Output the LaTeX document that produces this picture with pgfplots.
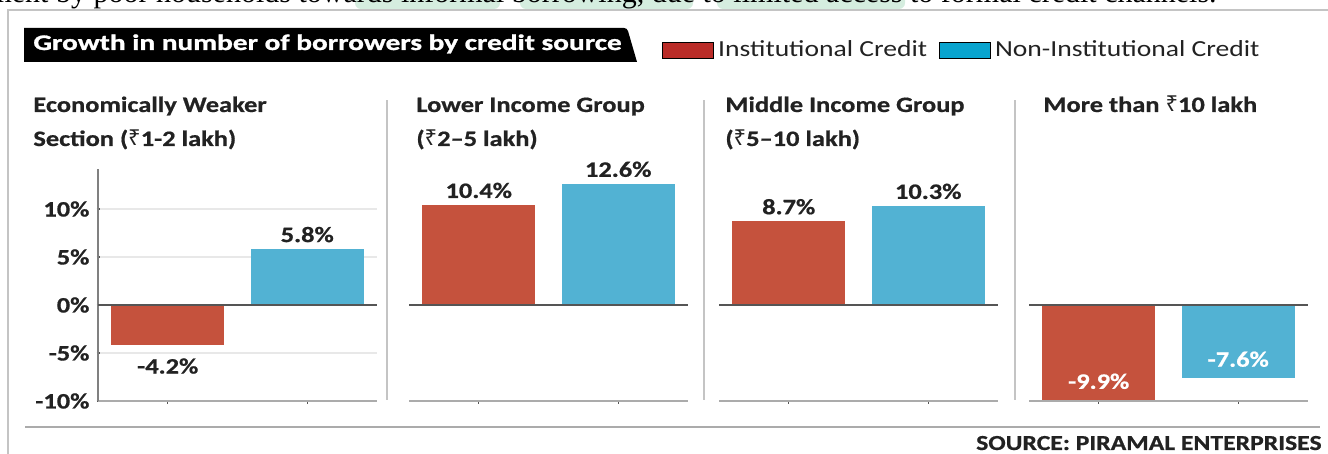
\documentclass[border=0pt]{standalone}
\usepackage{fontspec}
\setmainfont{Carlito}[FakeStretch=1.2, BoldFeatures={FakeBold=0.7}]
\newfontfamily\bannerfont{Carlito}[FakeStretch=1.32, BoldFeatures={FakeBold=1.3}]
\newfontfamily\rsfont{Noto Sans}
\newfontfamily\seriffont{Liberation Serif}
\usepackage{pgfplots}
\pgfplotsset{compat=1.18}
\definecolor{instred}{HTML}{C5523D}
\definecolor{noninstblue}{HTML}{52B2D3}
\definecolor{legred}{HTML}{BA2C28}
\definecolor{legblue}{HTML}{08A4CF}
\definecolor{gridgray}{HTML}{E8E8E8}
\definecolor{axisgray}{HTML}{ABABAB}
\definecolor{zerogray}{HTML}{555555}
\definecolor{framegray}{HTML}{C4C4C4}
\definecolor{mint}{HTML}{D5EDDF}
\definecolor{ink}{HTML}{222222}
\newcommand{\rs}{{\rsfont\bfseries ₹}}
\newcommand{\labfont}{\bfseries\fontsize{11}{13}\selectfont}

\tikzset{zero/.style={zerogray, line width=1.3pt}}
\pgfplotsset{
  panel/.style={
    scale only axis, width=139.5pt, height=116.15pt,
    anchor=south west,
    xmin=-0.5, xmax=1.5, ymin=-10, ymax=14.2,
    ybar, bar width=56.5pt,
    xtick={0,1}, xticklabels={},
    ytick={-10,-5,0,5,10},
    ymajorgrids, major grid style={gridgray, line width=0.6pt},
    axis x line=bottom,
    x axis line style={axisgray, line width=1.1pt, -},
    xtick style={zerogray, line width=0.6pt},
    tick align=outside, major tick length=1.5pt,
    nodes near coords={\pgfmathprintnumber[fixed,fixed zerofill,precision=1,assume math mode=true]{\pgfplotspointmeta}\%},
    every node near coord/.append style={font=\labfont, text=ink},
    clip=false,
  },
  noy/.style={axis y line=none, yticklabels={}, ytick style={draw=none}},
  inst/.style={fill=instred, draw=none, bar shift=0pt, forget plot},
  noninst/.style={fill=noninstblue, draw=none, bar shift=0pt, forget plot},
}

\begin{document}
\begin{tikzpicture}
\useasboundingbox (0,0) rectangle (664pt,227pt);

\begin{scope}[x=0.5pt, y=0.5pt]
  % article text cut off at the top
  \fill[mint, rounded corners=3pt] (355,445) rectangle (500,470);
  \fill[mint, rounded corners=3pt] (520,445) rectangle (693,470);
  \fill[mint, rounded corners=3pt] (717,445) rectangle (905,470);
  \node[anchor=base east, inner sep=0pt, font=\seriffont\fontsize{15}{17}\selectfont]
    at (1217,451) {ment by poor households towards informal borrowing, due to limited access to formal credit channels.};
  % frame
  \draw[framegray, line width=0.6pt] (8,0) -- (8,444) -- (1328,444);
  % title banner
  \fill[black] (24,426) -- (624,426) to[out=0,in=110] (628,423) -- (637,392) -- (24,392) -- cycle;
  \node[anchor=base west, inner sep=0pt, text=white, font=\bannerfont\bfseries\fontsize{11.1}{13}\selectfont]
    at (33,404) {Growth in number of borrowers by credit source};
  % panel titles
  \begin{scope}[every node/.style={anchor=base west, inner sep=0pt, text=ink, font=\bfseries\fontsize{11}{13}\selectfont}]
    \node at (33,342) {Economically Weaker};
    \node at (33,308) {Section (\rs1-2 lakh)};
    \node at (416,342) {Lower Income Group};
    \node at (416,308) {(\rs2–5 lakh)};
    \node at (725,342) {Middle Income Group};
    \node at (725,308) {(\rs5–10 lakh)};
    \node at (1043,342) {More than \rs10 lakh};
  \end{scope}
  % dividers
  \draw[framegray, line width=1pt] (387,54) -- (387,354);
  \draw[framegray, line width=1pt] (703.5,54) -- (703.5,354);
  \draw[framegray, line width=1pt] (1015,54) -- (1015,354);
  % bottom rule and source
  \draw[axisgray, line width=1pt] (25,27) -- (1320,27);
  \node[anchor=base east, inner sep=0pt, text=ink, font=\bfseries\fontsize{10.7}{13}\selectfont]
    at (1322,4) {SOURCE: PIRAMAL ENTERPRISES};
\end{scope}

% Economically Weaker Section
\begin{axis}[panel, at={(49pt,26.5pt)},
  axis y line=left, y axis line style={gray, line width=1pt, -},
  yticklabels={-10\%,-5\%,0\%,5\%,10\%},
  yticklabel style={font=\labfont, text=ink},
  ytick style={zerogray, line width=0.6pt},
  legend columns=2,
  legend image code/.code={\fill[#1] (0pt,-4pt) rectangle (25.5pt,4pt);},
  legend style={draw=none, fill=none, at={(2.0215,1.511)}, anchor=west,
    font=\fontsize{11.5}{13}\selectfont, text=ink, inner xsep=0pt,
    /tikz/every even column/.style={column sep=4pt}},
]
\addlegendimage{fill=legred}
\addlegendentry{Institutional Credit}
\addlegendimage{fill=legblue}
\addlegendentry{Non-Institutional Credit}
\addplot[inst, nodes near coords style={yshift=-3pt}] coordinates {(0,-4.2)};
\addplot[noninst] coordinates {(1,5.8)};
\draw[zero] (axis cs:-0.5,0) -- (axis cs:1.5,0);
\end{axis}

% Lower Income Group
\begin{axis}[panel, noy, at={(204.5pt,26.5pt)}]
\addplot[inst] coordinates {(0,10.4)};
\addplot[noninst] coordinates {(1,12.6)};
\draw[zero] (axis cs:-0.5,0) -- (axis cs:1.5,0);
\end{axis}

% Middle Income Group
\begin{axis}[panel, noy, at={(359.5pt,26.5pt)}]
\addplot[inst] coordinates {(0,8.7)};
\addplot[noninst] coordinates {(1,10.3)};
\draw[zero] (axis cs:-0.5,0) -- (axis cs:1.5,0);
\end{axis}

% More than 10 lakh
\begin{axis}[panel, noy, at={(514.5pt,26.5pt)},
  every node near coord/.append style={text=white, anchor=south, yshift=2pt}]
\addplot[inst] coordinates {(0,-9.9)};
\addplot[noninst] coordinates {(1,-7.6)};
\draw[zero] (axis cs:-0.5,0) -- (axis cs:1.5,0);
\end{axis}
\end{tikzpicture}
\end{document}
